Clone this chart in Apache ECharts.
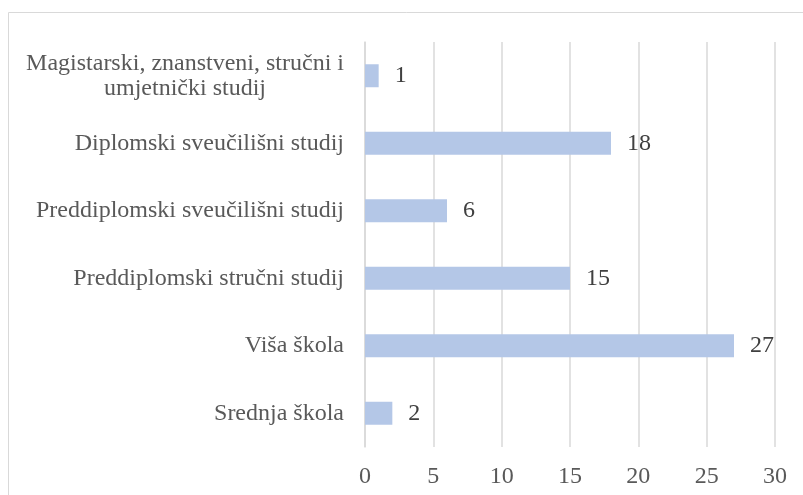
<!DOCTYPE html>
<html>
<head>
<meta charset="utf-8">
<script src="https://cdn.jsdelivr.net/npm/echarts@6/dist/echarts.min.js"></script>
<style>
  html, body { margin: 0; padding: 0; background: #fff; }
  #chart { width: 803px; height: 495px; }
</style>
</head>
<body>
<div id="chart"></div>
<script>
  // data, bottom to top as drawn by the category axis
  var categories = [
    'Srednja škola',
    'Viša škola',
    'Preddiplomski stručni studij',
    'Preddiplomski sveučilišni studij',
    'Diplomski sveučilišni studij',
    'Magistarski, znanstveni, stručni i\numjetnički studij'
  ];
  var values = [2, 27, 15, 6, 18, 1];
  var xTicks = [0, 5, 10, 15, 20, 25, 30];

  var font = '"Liberation Serif", "Times New Roman", serif';

  var chart = echarts.init(document.getElementById('chart'));
  var options = {
    animation: false,
    grid: { top: 42, left: 365, right: 28, bottom: 48, containLabel: false },
    graphic: [{
      type: 'rect',
      shape: { x: 8.5, y: 12.5, width: 820, height: 520 },
      style: { fill: 'none', stroke: '#d9d9d9', lineWidth: 1 },
      silent: true
    }],
    xAxis: {
      type: 'value',
      min: xTicks[0],
      max: xTicks[xTicks.length - 1],
      interval: 5,
      axisLine: { show: false },
      axisTick: { show: false },
      splitLine: { lineStyle: { color: '#d9d9d9', width: 1.5 } },
      axisLabel: { color: '#595959', fontSize: 24, fontFamily: font, margin: 18 }
    },
    yAxis: {
      type: 'category',
      data: categories,
      axisLine: { lineStyle: { color: '#d9d9d9', width: 1.5 } },
      axisTick: { show: false },
      axisLabel: {
        margin: 21,
        align: 'right',
        // each line centred inside the label block, like the original
        formatter: function (v) {
          return v.split('\n').map(function (s) { return '{c|' + s + '}'; }).join('\n');
        },
        rich: {
          c: { align: 'center', color: '#595959', fontSize: 24, fontFamily: font, lineHeight: 25 }
        }
      }
    },
    series: [{
      type: 'bar',
      data: values,
      barWidth: 23,
      itemStyle: { color: '#b4c7e7' },
      label: {
        show: true,
        position: 'right',
        distance: 16,
        color: '#404040',
        fontSize: 24,
        fontFamily: font
      }
    }]
  };
  chart.setOption(options);
</script>
</body>
</html>
